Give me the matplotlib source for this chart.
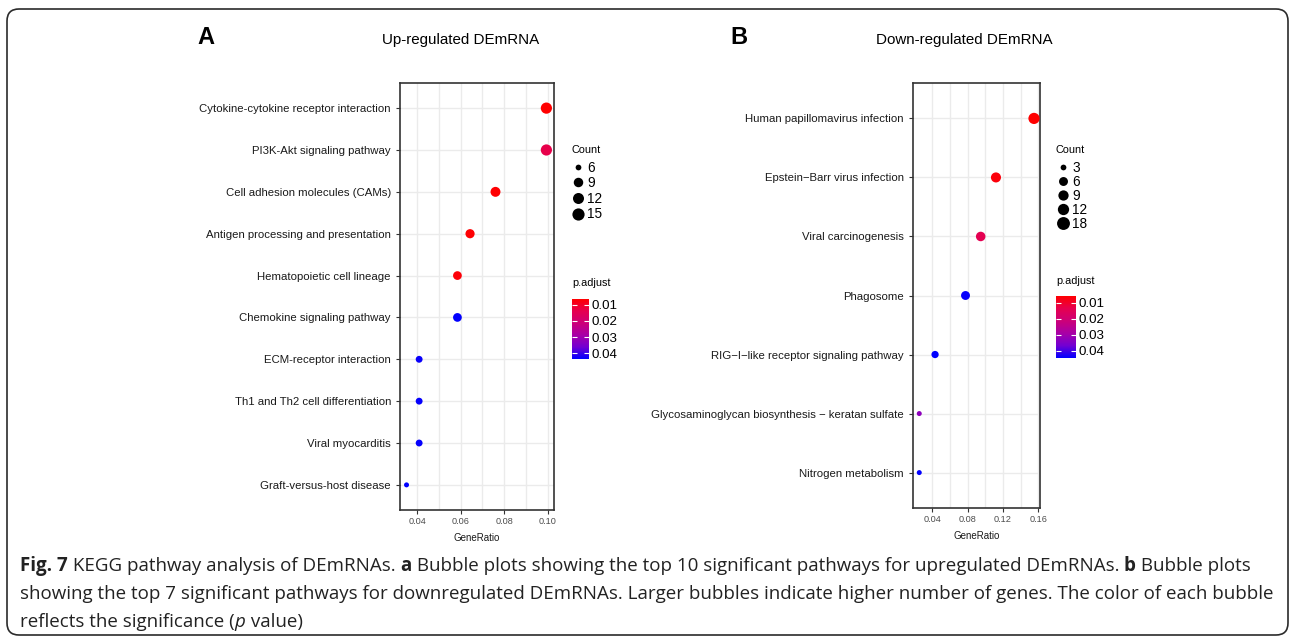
import numpy as np
import matplotlib
matplotlib.use("Agg")
import matplotlib.pyplot as plt
from matplotlib.colors import LinearSegmentedColormap, Normalize
from matplotlib.cm import ScalarMappable
from matplotlib.lines import Line2D
from matplotlib.patches import FancyBboxPatch
from matplotlib.transforms import IdentityTransform

plt.rcParams['font.family'] = ['Liberation Sans', 'DejaVu Sans']

# ---- data ----
up_terms = ["Cytokine-cytokine receptor interaction", "PI3K-Akt signaling pathway",
            "Cell adhesion molecules (CAMs)", "Antigen processing and presentation",
            "Hematopoietic cell lineage", "Chemokine signaling pathway",
            "ECM-receptor interaction", "Th1 and Th2 cell differentiation",
            "Viral myocarditis", "Graft-versus-host disease"]
up_ratio = [0.0994, 0.0994, 0.0760, 0.0643, 0.0585, 0.0585, 0.0409, 0.0409, 0.0409, 0.0351]
up_count = [17, 17, 13, 11, 10, 10, 7, 7, 7, 6]
up_padj = [0.0064, 0.0135, 0.0066, 0.0068, 0.0072, 0.0434, 0.0430, 0.0432, 0.0433, 0.0436]
up_size_breaks = [6, 9, 12, 15]

down_terms = ["Human papillomavirus infection", "Epstein\u2212Barr virus infection",
              "Viral carcinogenesis", "Phagosome",
              "RIG\u2212I\u2212like receptor signaling pathway",
              "Glycosaminoglycan biosynthesis \u2212 keratan sulfate",
              "Nitrogen metabolism"]
down_ratio = [0.1552, 0.1121, 0.0948, 0.0776, 0.0431, 0.0252, 0.0252]
down_count = [18, 13, 11, 9, 5, 3, 3]
down_padj = [0.0057, 0.0068, 0.0140, 0.0440, 0.0446, 0.0330, 0.0443]
down_size_breaks = [3, 6, 9, 12, 18]

cmap = LinearSegmentedColormap.from_list(
    "padj", ["#FF0000", "#E6004F", "#CC0078", "#A800A6", "#7300D2", "#0000FF"])

W, H = 1290, 638
fig = plt.figure(figsize=(W / 100, H / 100), dpi=100)


def px_axes(x0, y0, x1, y1):
    # pixel box (top-left origin) -> figure fraction
    return fig.add_axes([x0 / W, 1 - y1 / H, (x1 - x0) / W, (y1 - y0) / H])


def bubble_size(c, cmin, cmax, dmin=5.0, dmax=11.2):
    d = dmin + (dmax - dmin) * np.sqrt((np.asarray(c, float) - cmin) / (cmax - cmin))
    return d * 0.72  # diameter in points


def panel(box, terms, ratio, count, padj, xlim, xticks, minor):
    ax = px_axes(*box)
    n = len(terms)
    y = np.arange(n)
    norm = Normalize(min(padj), max(padj))
    d = bubble_size(count, min(count), max(count))
    ax.scatter(ratio, y, s=d ** 2, c=padj, cmap=cmap, norm=norm, linewidths=0, zorder=3)
    ax.set_ylim(n - 0.4, -0.6)
    ax.set_xlim(*xlim)
    ax.set_yticks(y)
    ax.set_yticklabels(terms, fontsize=8.2, color="#1a1a1a")
    ax.set_xticks(xticks)
    ax.set_xticklabels(["%.2f" % t for t in xticks], fontsize=6.6, color="#4d4d4d")
    ax.set_xticks(minor, minor=True)
    ax.grid(True, which="both", color="#EBEBEB", lw=1.0, zorder=0)
    ax.set_axisbelow(True)
    ax.tick_params(axis="both", which="major", length=3, width=0.8, color="#333333", pad=2)
    ax.tick_params(axis="y", which="major", pad=3.5)
    ax.tick_params(axis="x", which="minor", length=0)
    for s in ax.spines.values():
        s.set_color("#333333")
        s.set_linewidth(1.2)
    ax.set_xlabel("GeneRatio", fontsize=7, labelpad=5, color="#1a1a1a")
    return ax, norm, (min(count), max(count))


def count_legend(x, y, breaks, crange, spacing):
    handles = [Line2D([], [], marker="o", ls="", color="black",
                      markersize=bubble_size(b, *crange) * 1.15, markeredgewidth=0)
               for b in breaks]
    leg = fig.legend(handles, [str(b) for b in breaks], loc="upper left",
                     bbox_to_anchor=(x / W, 1 - y / H), frameon=False, fontsize=9.8,
                     title="Count", title_fontsize=7.8, handlelength=1.0,
                     handletextpad=0.2, labelspacing=spacing, borderpad=0, borderaxespad=0)
    leg._legend_box.align = "left"
    leg._legend_box.sep = 4


def pbar(box, norm, title_xy):
    cax = px_axes(*box)
    sm = ScalarMappable(norm=norm, cmap=cmap)
    cb = fig.colorbar(sm, cax=cax)
    cb.outline.set_visible(False)
    cb.set_ticks([0.01, 0.02, 0.03, 0.04])
    cb.set_ticklabels(["0.01", "0.02", "0.03", "0.04"])
    cax.invert_yaxis()
    cax.tick_params(direction="in", color="white", length=3.5, width=0.8,
                    left=True, right=True, labelsize=9.6, pad=2)
    fig.text(title_xy[0] / W, 1 - title_xy[1] / H, "p.adjust", fontsize=7.8,
             ha="left", va="center")


axA, normA, crA = panel((400, 83, 554, 510), up_terms, up_ratio, up_count, up_padj,
                        (0.0321, 0.1029), [0.04, 0.06, 0.08, 0.10], [0.05, 0.07, 0.09])
axB, normB, crB = panel((913, 83, 1040, 508), down_terms, down_ratio, down_count, down_padj,
                        (0.0181, 0.1620), [0.04, 0.08, 0.12, 0.16], [0.06, 0.10, 0.14])

count_legend(571, 145, up_size_breaks, crA, 0.12)
count_legend(1056, 145, down_size_breaks, crB, 0.0)
pbar((572, 299, 589, 359), normA, (572, 283))
pbar((1056, 296, 1076, 358), normB, (1056, 281))

# headers
fig.text(206 / W, 1 - 38 / H, "A", fontsize=17, fontweight="bold", ha="center", va="center")
fig.text(739 / W, 1 - 38 / H, "B", fontsize=17, fontweight="bold", ha="center", va="center")
fig.text(461 / W, 1 - 40 / H, "Up-regulated DEmRNA", fontsize=10.9, ha="center", va="center")
fig.text(964 / W, 1 - 40 / H, "Down-regulated DEmRNA", fontsize=10.9, ha="center", va="center")

# frame
fig.patches.append(FancyBboxPatch((0.07, 0.03), 12.81, 6.26,
                                  boxstyle="round,pad=0,rounding_size=0.12",
                                  transform=fig.dpi_scale_trans, fill=False,
                                  ec="#2b2b2b", lw=1.2))

# caption with mixed styles
cap_lines = [
    [("Fig. 7", "bold", "normal"), (" KEGG pathway analysis of DEmRNAs. ", "normal", "normal"),
     ("a", "bold", "normal"),
     (" Bubble plots showing the top 10 significant pathways for upregulated DEmRNAs. ", "normal", "normal"),
     ("b", "bold", "normal"), (" Bubble plots", "normal", "normal")],
    [("showing the top 7 significant pathways for downregulated DEmRNAs. Larger bubbles "
      "indicate higher number of genes. The color of each bubble", "normal", "normal")],
    [("reflects the significance (", "normal", "normal"), ("p", "normal", "italic"),
     (" value)", "normal", "normal")],
]
renderer = fig.canvas.get_renderer()
baselines = [H - 571, H - 599, H - 627]
for runs, yb in zip(cap_lines, baselines):
    x = 20
    for txt, wt, st in runs:
        t = fig.text(x, yb, txt, transform=IdentityTransform(), fontsize=13.5,
                     family=["Open Sans", "DejaVu Sans"], fontweight=wt, fontstyle=st,
                     ha="left", va="baseline", color="#222222")
        x = t.get_window_extent(renderer).x1

fig.savefig("out.png", dpi=100)
